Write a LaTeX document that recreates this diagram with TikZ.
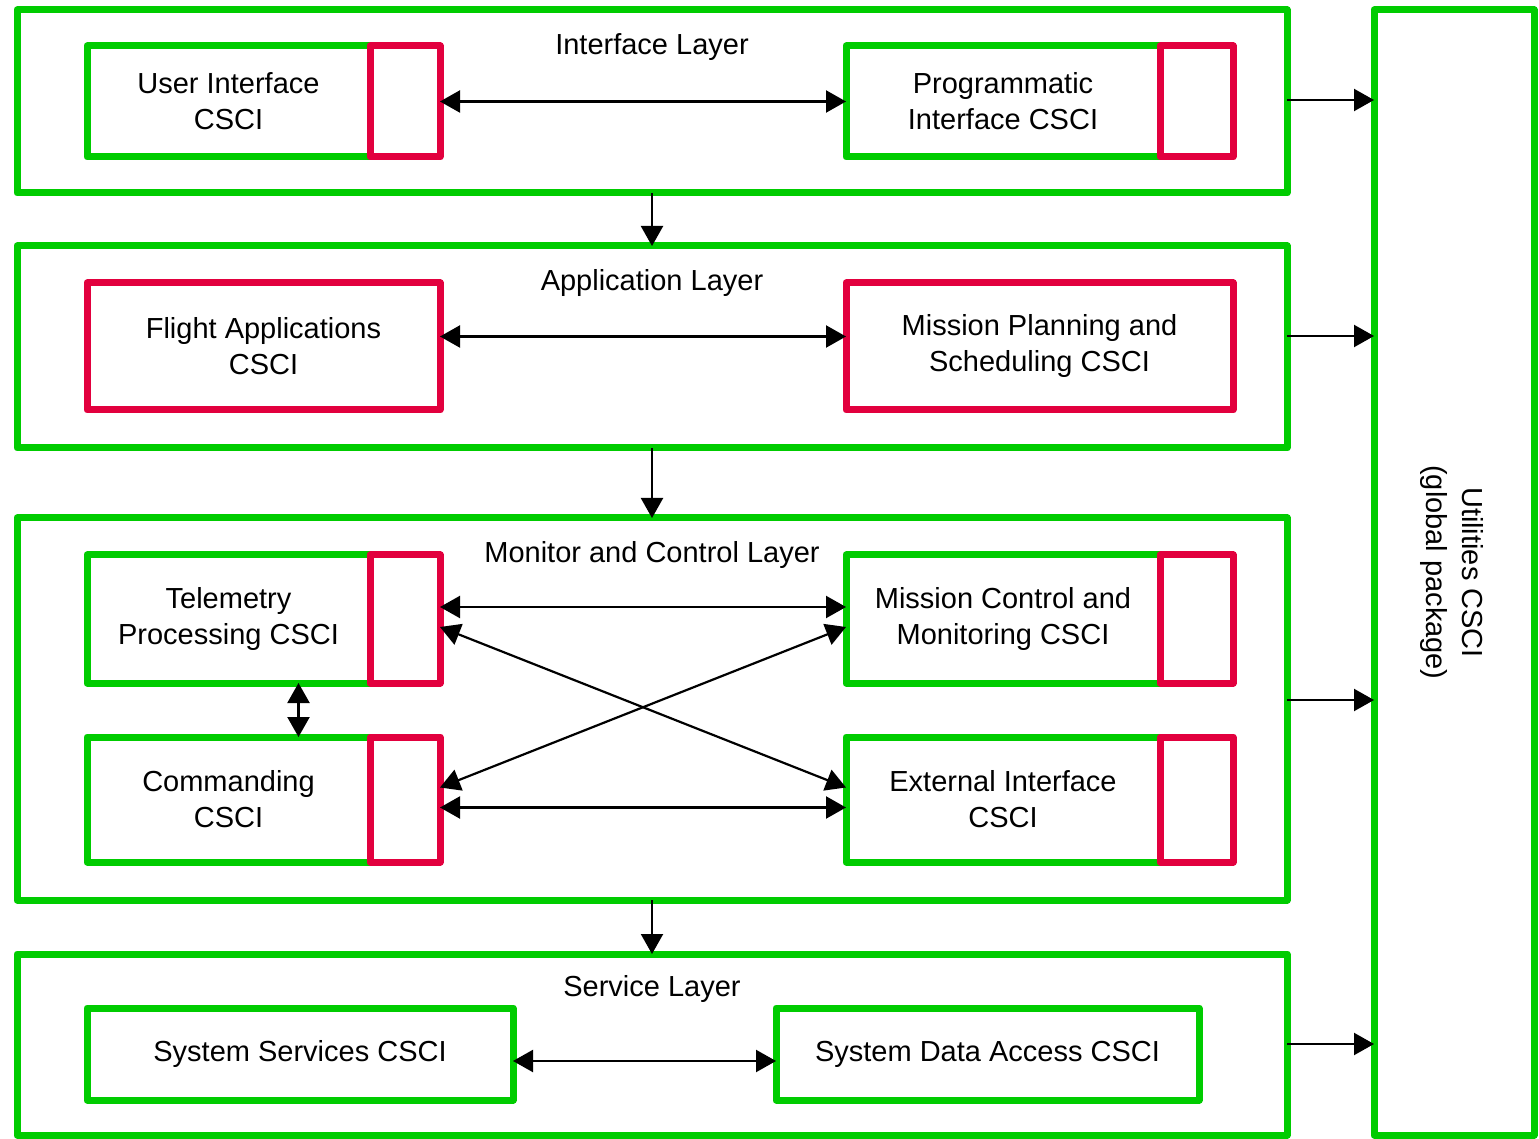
\documentclass[tikz,border=0pt]{standalone}
\usepackage{fontspec}
\setmainfont{Liberation Sans}
\usetikzlibrary{fit,arrows.meta}
\definecolor{pkggreen}{RGB}{0,204,0}
\definecolor{pkgred}{RGB}{226,0,62}

\tikzset{
  boxtext/.style={align=center, font=\fontsize{14.5}{18}\selectfont, inner sep=0pt},
  frame/.style={draw=pkggreen, line width=3.5pt, line join=round, inner sep=0pt, outer sep=0pt},
  port/.style={draw=pkgred, line width=3.5pt, line join=round, inner sep=0pt, outer sep=0pt},
  csci/.style={frame, label={[boxtext]center:#1}},
  redcsci/.style={port, label={[boxtext]center:#1}},
  layertitle/.style={font=\fontsize{14.5}{18}\selectfont, inner sep=0pt},
  tip/.tip={Triangle[length=10pt, width=11pt]},
  conn/.style={line width=1.1pt, -tip},
  biconn/.style={line width=1.1pt, tip-tip},
}

\begin{document}
\begin{tikzpicture}[x=0.5pt, y=-0.5pt]
  % page
  \fill[white] (0,0) rectangle (1539,1139);

  % ---------------- layers ----------------
  \node[frame, fit={(17,10) (1287,193)}]    (iface) {};
  \node[frame, fit={(17,246) (1287,448)}]   (app) {};
  \node[frame, fit={(17,518) (1287,900)}]   (mon) {};
  \node[frame, fit={(17,954) (1287,1135)}]  (svc) {};
  \node[frame, fit={(1374,10) (1534,1135)}] (util) {};

  \node[layertitle] (ifaceT) at ([yshift=-18.5pt]iface.north) {Interface Layer};
  \node[layertitle] (appT)   at ([yshift=-18.5pt]app.north)   {Application Layer};
  \node[layertitle] (monT)   at ([yshift=-18.5pt]mon.north)   {Monitor and Control Layer};
  \node[layertitle] (svcT)   at ([yshift=-17.5pt]svc.north)   {Service Layer};
  \node[layertitle, rotate=-90, align=center] (utilT) at ([xshift=-1pt]util.center)
       {Utilities CSCI\\(global package)};

  % ---------------- interface layer ----------------
  \node[csci={User Interface\\CSCI}, fit={(87,46) (370,157)}]   (ui) {};
  \node[port, fit={(370,46) (440,157)}]                          (uiP) {};
  \node[csci={Programmatic\\Interface CSCI}, fit={(846,46) (1160,157)}] (pi) {};
  \node[port, fit={(1160,46) (1233,157)}]                        (piP) {};

  % ---------------- application layer ----------------
  \node[redcsci={Flight Applications\\CSCI}, fit={(87,283) (440,410)}]      (fa) {};
  \node[redcsci={Mission Planning and\\Scheduling CSCI}, fit={(846,283) (1233,410)}] (mp) {};

  % ---------------- monitor and control layer ----------------
  \node[csci={Telemetry\\Processing CSCI}, fit={(87,555) (370,683)}]      (tel) {};
  \node[port, fit={(370,555) (440,683)}]                                   (telP) {};
  \node[csci={Mission Control and\\Monitoring CSCI}, fit={(846,555) (1160,683)}] (mc) {};
  \node[port, fit={(1160,555) (1233,683)}]                                 (mcP) {};
  \node[csci={Commanding\\CSCI}, fit={(87,737) (370,862)}]                 (cmd) {};
  \node[port, fit={(370,737) (440,862)}]                                   (cmdP) {};
  \node[csci={External Interface\\CSCI}, fit={(846,737) (1160,862)}]       (ext) {};
  \node[port, fit={(1160,737) (1233,862)}]                                 (extP) {};

  % ---------------- service layer ----------------
  \node[csci={System Services CSCI}, fit={(87,1008) (513,1100)}]     (ss)  {};
  \node[csci={System Data Access CSCI}, fit={(776,1008) (1199,1100)}] (sda) {};

  % ---------------- connectors inside layers ----------------
  \draw[biconn] (uiP.east) -- (pi.west);
  \draw[biconn] ([yshift=5pt]fa.east) -- ([yshift=5pt]mp.west);
  \draw[biconn] ([yshift=6pt]telP.east) -- ([yshift=6pt]mc.west);
  \draw[biconn] ([yshift=-4pt]cmdP.east) -- ([yshift=-4pt]ext.west);
  \draw[biconn] ([yshift=-4pt]telP.east) -- ([yshift=6pt]ext.west);
  \draw[biconn] ([yshift=-4pt]mc.west) -- ([yshift=6pt]cmdP.east);
  \draw[biconn] ([xshift=35pt]tel.south) -- ([xshift=35pt]cmd.north);
  \draw[biconn] ([yshift=-3.5pt]ss.east) -- ([yshift=-3.5pt]sda.west);

  % ---------------- connectors between layers ----------------
  \draw[conn] (iface.south) -- (app.north);
  \draw[conn] (app.south) -- (mon.north);
  \draw[conn] (mon.south) -- (svc.north);

  % ---------------- connectors to the utilities package ----------------
  \coordinate (ifaceOut) at ([yshift=0.75pt]iface.east);
  \coordinate (appOut)   at ([yshift=5.5pt]app.east);
  \coordinate (monOut)   at ([yshift=4.5pt]mon.east);
  \coordinate (svcOut)   at ([yshift=0.25pt]svc.east);
  \draw[conn] (ifaceOut) -- (ifaceOut -| util.west);
  \draw[conn] (appOut)   -- (appOut -| util.west);
  \draw[conn] (monOut)   -- (monOut -| util.west);
  \draw[conn] (svcOut)   -- (svcOut -| util.west);
\end{tikzpicture}
\end{document}
